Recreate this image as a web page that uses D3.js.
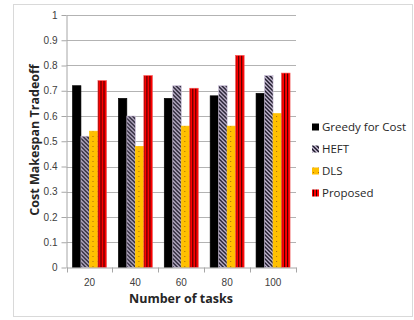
<!DOCTYPE html>
<html>
<head>
<meta charset="utf-8">
<script src="https://cdn.jsdelivr.net/npm/d3@7"></script>
<style>
  html, body { margin: 0; padding: 0; background: #fff; }
  svg { display: block; font-family: "Open Sans", "Liberation Sans", sans-serif; }
</style>
</head>
<body>
<svg id="chart" width="414" height="320"></svg>
<script>
// Number of tasks on the x axis
const categories = ["20", "40", "60", "80", "100"];
// Series names in legend order
const seriesNames = ["Greedy for Cost", "HEFT", "DLS", "Proposed"];
// Cost makespan tradeoff per series, one value per category
const greedyValues   = [0.72, 0.67, 0.67, 0.68, 0.69];
const heftValues     = [0.52, 0.60, 0.72, 0.72, 0.76];
const dlsValues      = [0.54, 0.48, 0.56, 0.56, 0.61];
const proposedValues = [0.74, 0.76, 0.71, 0.84, 0.77];
const yTicks = [0, 0.1, 0.2, 0.3, 0.4, 0.5, 0.6, 0.7, 0.8, 0.9, 1];

const seriesValues = [greedyValues, heftValues, dlsValues, proposedValues];

const svg = d3.select("#chart");
const plot = { left: 66.5, right: 296, top: 15, bottom: 267.5 };

// Outer frame
svg.append("rect")
  .attr("x", 13.5).attr("y", 4.5)
  .attr("width", 399).attr("height", 312)
  .attr("fill", "#fff").attr("stroke", "#d9d9d9").attr("stroke-width", 1);

// Fill patterns
const defs = svg.append("defs");

const heft = defs.append("pattern").attr("id", "pat-heft")
  .attr("patternUnits", "userSpaceOnUse").attr("width", 4).attr("height", 4);
heft.append("rect").attr("width", 4).attr("height", 4).attr("fill", "#ccc0da");
heft.append("path").attr("d", "M-1,-1 L5,5 M-1,3 L1,5 M3,-1 L5,1")
  .attr("stroke", "#1a1726").attr("stroke-width", 1.5);

const dls = defs.append("pattern").attr("id", "pat-dls")
  .attr("patternUnits", "userSpaceOnUse").attr("width", 5).attr("height", 5);
dls.append("rect").attr("width", 5).attr("height", 5).attr("fill", "#ffc000");
dls.append("rect").attr("x", 1).attr("y", 1).attr("width", 1).attr("height", 1).attr("fill", "#a86a10");

const prop = defs.append("pattern").attr("id", "pat-prop")
  .attr("patternUnits", "userSpaceOnUse").attr("width", 3).attr("height", 3);
prop.append("rect").attr("width", 3).attr("height", 3).attr("fill", "#ff0000");
prop.append("rect").attr("x", 1).attr("width", 1).attr("height", 3).attr("fill", "#3a0000");

const fills = ["#000000", "url(#pat-heft)", "url(#pat-dls)", "url(#pat-prop)"];
const strokes = ["#000000", "#ccc0da", "#ffc000", "#ff5050"];

// Scales
const x0 = d3.scaleBand().domain(categories).range([plot.left, plot.right]).paddingInner(0).paddingOuter(0);
const x1 = d3.scaleBand().domain(d3.range(seriesNames.length))
  .range([0, x0.bandwidth()]).paddingInner(0).paddingOuter(0.7);
const y = d3.scaleLinear().domain([0, 1]).range([plot.bottom, plot.top]);

// Gridlines
svg.append("g")
  .selectAll("line").data(yTicks.filter(d => d > 0)).join("line")
  .attr("x1", plot.left).attr("x2", plot.right)
  .attr("y1", d => Math.round(y(d)) + 0.5).attr("y2", d => Math.round(y(d)) + 0.5)
  .attr("stroke", "#b3b3b3").attr("stroke-width", 1);

// Bars
const groups = svg.append("g").selectAll("g").data(categories).join("g")
  .attr("transform", d => `translate(${x0(d)},0)`);
groups.selectAll("rect")
  .data((c, ci) => seriesValues.map((vals, si) => ({ si, v: vals[ci] })))
  .join("rect")
  .attr("x", d => x1(d.si))
  .attr("width", x1.bandwidth())
  .attr("y", d => y(d.v))
  .attr("height", d => y(0) - y(d.v))
  .attr("fill", d => fills[d.si])
  .attr("stroke", d => strokes[d.si])
  .attr("stroke-width", 0.6);

// Y axis
const yAxis = svg.append("g")
  .attr("transform", `translate(${plot.left},0)`)
  .call(d3.axisLeft(y).tickValues(yTicks).tickFormat(d3.format("~g")).tickSize(5).tickSizeOuter(0));
yAxis.select(".domain").attr("stroke", "#a6a6a6");
yAxis.selectAll(".tick line").attr("stroke", "#a6a6a6");
yAxis.selectAll(".tick text").attr("fill", "#404040").attr("font-size", 10).attr("x", -9);

// X axis
const xAxis = svg.append("g")
  .attr("transform", `translate(0,${plot.bottom})`)
  .call(d3.axisBottom(x0).tickSize(0).tickSizeOuter(0));
xAxis.select(".domain").attr("stroke", "#a6a6a6");
xAxis.selectAll(".tick text").attr("fill", "#404040").attr("font-size", 10).attr("dy", "1.55em");
// Category separator ticks
svg.append("g").selectAll("line")
  .data(categories.map(c => x0(c)).concat([plot.right])).join("line")
  .attr("x1", d => Math.round(d) + 0.5).attr("x2", d => Math.round(d) + 0.5)
  .attr("y1", plot.bottom).attr("y2", plot.bottom + 5)
  .attr("stroke", "#a6a6a6");

// Axis titles
svg.append("text")
  .attr("x", 181).attr("y", 303)
  .attr("text-anchor", "middle")
  .attr("font-size", 12.5).attr("font-weight", "bold").attr("fill", "#262626")
  .text("Number of tasks");
svg.append("text")
  .attr("transform", `translate(39,140) rotate(-90)`)
  .attr("text-anchor", "middle")
  .attr("font-size", 12.5).attr("font-weight", "bold").attr("fill", "#262626")
  .text("Cost Makespan Tradeoff");

// Legend
const legend = svg.append("g").selectAll("g").data(seriesNames).join("g")
  .attr("transform", (d, i) => `translate(312,${127 + i * 22})`);
legend.append("rect")
  .attr("x", 0).attr("y", -3.5).attr("width", 7).attr("height", 7)
  .attr("fill", (d, i) => fills[i]);
legend.append("text")
  .attr("x", 10).attr("y", 0).attr("dy", "0.35em")
  .attr("font-size", 11.5).attr("fill", "#262626")
  .text(d => d);
</script>
</body>
</html>
